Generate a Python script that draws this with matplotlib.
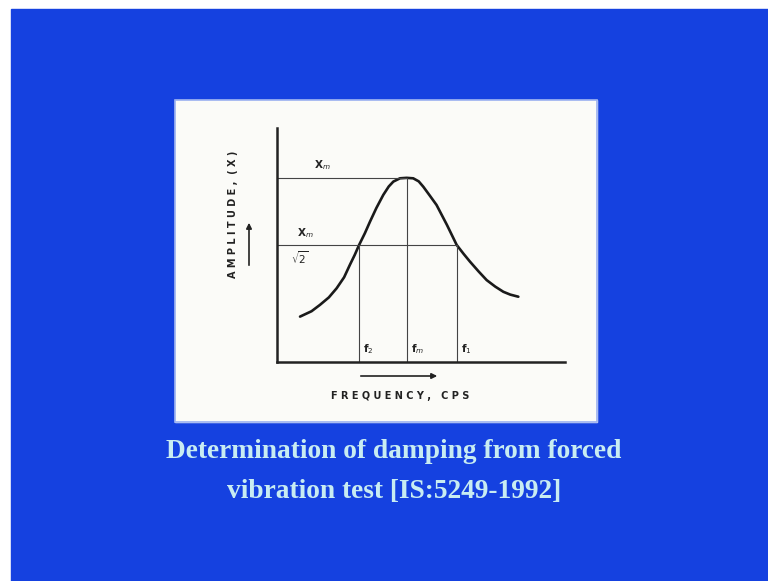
import matplotlib.pyplot as plt
from matplotlib.patches import Rectangle

# curve (frequency, amplitude), arbitrary units 0-10
freq = [0.80, 1.20, 1.49, 1.80, 2.07, 2.33, 2.53, 2.70, 2.85, 3.05, 3.23,
        3.45, 3.69, 3.88, 4.04, 4.27, 4.50, 4.73, 4.92, 5.08, 5.30, 5.54,
        5.90, 6.24, 6.48, 6.70, 7.00, 7.28, 7.58, 7.86, 8.10, 8.38]
amp = [1.94, 2.17, 2.44, 2.76, 3.15, 3.62, 4.15, 4.58, 5.00, 5.50, 6.00,
       6.58, 7.14, 7.50, 7.71, 7.85, 7.87, 7.85, 7.72, 7.49, 7.12, 6.71,
       5.86, 5.00, 4.62, 4.29, 3.87, 3.50, 3.22, 3.00, 2.88, 2.79]

f2, fm, f1 = 2.85, 4.51, 6.25
xm = 7.86
xhalf = 5.0

caption = ["Determination of damping from forced",
           "vibration test [IS:5249-1992]"]

W, H = 768, 581
fig = plt.figure(figsize=(W / 100, H / 100), dpi=100)
fig.patch.set_facecolor('white')

# background layer in pixel coordinates
bg = fig.add_axes([0, 0, 1, 1])
bg.set_xlim(0, W)
bg.set_ylim(H, 0)
bg.axis('off')
bg.add_patch(Rectangle((11, 9), W - 11, H - 9, color='#1541e0', zorder=0))
bg.add_patch(Rectangle((175, 100), 422, 322, color='#fbfbf8', zorder=1))
bg.add_patch(Rectangle((175, 100), 422, 322, fill=False, ec='#9ab0f0', lw=1.2, zorder=2))

cap_col = '#c8ecf2'
bg.text(394, 451, caption[0], ha='center', va='center', color=cap_col,
        fontsize=19.7, family='Liberation Serif', weight='bold')
bg.text(394, 492, caption[1], ha='center', va='center', color=cap_col,
        fontsize=19.7, family='Liberation Serif', weight='bold')

# axis titles and arrows
ink = '#222222'
bg.text(233, 214, 'A M P L I T U D E ,  ( X )', rotation=90, ha='center', va='center',
        fontsize=7, weight='bold', color=ink, zorder=3)
bg.annotate('', xy=(249, 220), xytext=(249, 268),
            arrowprops=dict(arrowstyle='-|>', color=ink, lw=1.2,
                            mutation_scale=8), zorder=3)
bg.text(400, 396, 'F R E Q U E N C Y ,   C P S', ha='center', va='center',
        fontsize=7, weight='bold', color=ink, zorder=3)
bg.annotate('', xy=(440, 376), xytext=(358, 376),
            arrowprops=dict(arrowstyle='-|>', color=ink, lw=1.2,
                            mutation_scale=8), zorder=3)

# chart axes
ax = fig.add_axes([277 / W, 1 - 362 / H, 288 / W, 234 / H])
ax.set_xlim(0, 10)
ax.set_ylim(0, 10)
ax.patch.set_alpha(0)
for s in ['top', 'right']:
    ax.spines[s].set_visible(False)
for s in ['left', 'bottom']:
    ax.spines[s].set_linewidth(1.8)
    ax.spines[s].set_color(ink)
ax.set_xticks([])
ax.set_yticks([])

ax.plot(freq, amp, color='#1a1a1a', lw=1.9, solid_capstyle='round')
ax.plot([0, fm], [xm, xm], color='#444444', lw=0.8)
ax.plot([0, f1], [xhalf, xhalf], color='#444444', lw=0.8)
for f in [f2, fm, f1]:
    ax.plot([f, f], [0, xm if f == fm else xhalf], color='#444444', lw=0.8)

lab = dict(fontsize=7.5, weight='bold', color=ink, clip_on=False, va='center')
ax.text(1.3, 8.4, r'X$_{m}$', **lab)
ax.text(0.7, 5.5, r'X$_{m}$', **lab)
ax.text(0.5, 4.45, r'$\sqrt{2}$', **lab)
ax.text(f2 + 0.15, 0.55, r'f$_{2}$', **lab)
ax.text(fm + 0.15, 0.55, r'f$_{m}$', **lab)
ax.text(f1 + 0.15, 0.55, r'f$_{1}$', **lab)

fig.savefig('out.png', dpi=100)
